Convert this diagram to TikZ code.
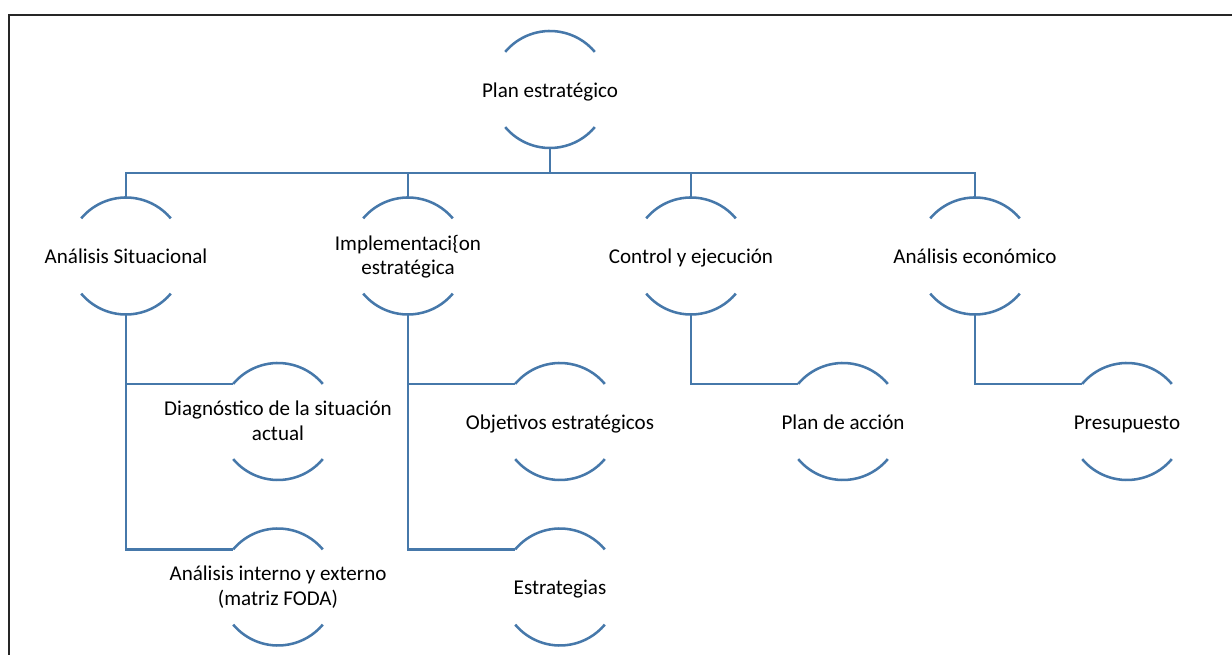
\documentclass[tikz,border=0pt]{standalone}
\usepackage{fontspec}
\setmainfont{Carlito}
\definecolor{azul}{RGB}{70,120,170}

\begin{document}
\begin{tikzpicture}[x=0.75pt,y=0.75pt,
    linea/.style={azul,line width=1.9pt},
    burbuja/.style={circle,minimum size=87.75pt,inner sep=0pt,outer sep=0pt},
    texto/.style={font=\fontsize{15.8}{18.5}\selectfont,align=center,inner sep=0pt,yshift=-2pt,
      execute at begin node=\strut,execute at end node=\strut}]
  \useasboundingbox (0,0) rectangle (1232,-655);
  % Marco
  \draw[line width=1.5pt,black!85] (9,-15) rectangle (1260,-690);
  % Raiz
  \node[burbuja,label={[texto]center:Plan estratégico}] (pe) at (550,-89.5) {};
  % Primer nivel
  \node[burbuja,label={[texto]center:Análisis Situacional}] (as) at (126,-256) {};
  \node[burbuja,label={[texto]center:Implementaci\{on\\estratégica}] (ie) at (408,-256) {};
  \node[burbuja,label={[texto]center:Control y ejecución}] (ce) at (691,-256) {};
  \node[burbuja,label={[texto]center:Análisis económico}] (ae) at (975,-256) {};
  % Segundo nivel
  \node[burbuja,label={[texto]center:Diagnóstico de la situación\\actual}] (dx) at (278,-421.5) {};
  \node[burbuja,label={[texto]center:Análisis interno y externo\\(matriz FODA)}] (ai) at (278,-587) {};
  \node[burbuja,label={[texto]center:Objetivos estratégicos}] (oe) at (560,-421.5) {};
  \node[burbuja,label={[texto]center:Estrategias}] (es) at (560,-587) {};
  \node[burbuja,label={[texto]center:Plan de acción}] (pa) at (843,-421.5) {};
  \node[burbuja,label={[texto]center:Presupuesto}] (pr) at (1127,-421.5) {};
  % Arcos de cada burbuja
  \foreach \n in {pe,as,ie,ce,ae,dx,ai,oe,es,pa,pr}{
    \draw[linea] (\n.140) arc[start angle=140,end angle=40,radius=43.875pt]; % arriba
    \draw[linea] (\n.220) arc[start angle=220,end angle=320,radius=43.875pt]; % abajo
  }
  % Conectores
  \coordinate (barra) at (550,-173);
  \draw[linea] (pe.south) -- (barra);
  \draw[linea] (as.north) -- (as.north |- barra) -- (ae.north |- barra) -- (ae.north);
  \draw[linea] (ie.north) -- (ie.north |- barra);
  \draw[linea] (ce.north) -- (ce.north |- barra);
  \draw[linea] (as.south) |- (dx.140);
  \draw[linea] (as.south) |- (ai.140);
  \draw[linea] (ie.south) |- (oe.140);
  \draw[linea] (ie.south) |- (es.140);
  \draw[linea] (ce.south) |- (pa.140);
  \draw[linea] (ae.south) |- (pr.140);
\end{tikzpicture}
\end{document}
